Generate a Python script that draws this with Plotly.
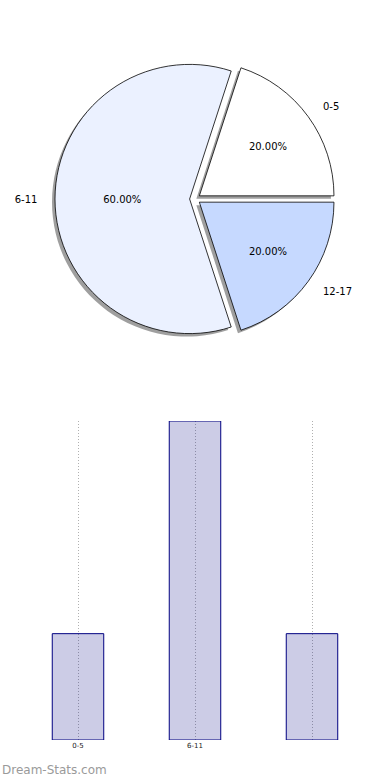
import plotly.graph_objects as go

age_groups = ["0-5", "6-11", "12-17"]
counts = [1, 3, 1]
pie_colors = ["#FFFFFF", "#EBF1FF", "#C6D9FF"]
bar_tick_labels = ["0-5", "6-11", ""]
watermark = "Dream-Stats.com"

W, H = 390, 780
pull = 0.04
label_pull = 0.15
# pie geometry (pixels -> paper)
cx, cy, half = 195, 199, 140
r = half / (1 + pull)


def domain(h, dx=0.0, dy=0.0):
    return dict(x=[(cx + dx - h) / W, (cx + dx + h) / W],
                y=[1 - (cy + dy + h) / H, 1 - (cy + dy - h) / H])


fig = go.Figure()

common = dict(labels=age_groups, values=counts, sort=False,
              direction="counterclockwise", rotation=18,
              showlegend=False, hoverinfo="skip")

# shadow
fig.add_trace(go.Pie(**common, pull=[pull] * 3, domain=domain(half, -3, 3),
                     marker=dict(colors=["rgba(80,80,80,0.55)"] * 3,
                                 line=dict(width=0)),
                     textinfo="none"))
# main pie with percentages
fig.add_trace(go.Pie(**common, pull=[pull] * 3, domain=domain(half),
                     marker=dict(colors=pie_colors, line=dict(color="black", width=0.8)),
                     texttemplate="%{percent:.2%}", textposition="inside",
                     insidetextorientation="horizontal",
                     textfont=dict(family="DejaVu Sans", size=10, color="black")))
# outside labels
fig.add_trace(go.Pie(**common, pull=[label_pull] * 3, domain=domain(r * (1 + label_pull)),
                     marker=dict(colors=["rgba(0,0,0,0)"] * 3, line=dict(width=0)),
                     texttemplate="%{label}", textposition="outside", automargin=False,
                     outsidetextfont=dict(family="DejaVu Sans", size=10, color="black")))

# bar chart
fig.add_trace(go.Bar(x=age_groups, y=counts, width=0.44,
                     marker=dict(color="rgba(0,0,128,0.2)",
                                 line=dict(color="navy", width=1)),
                     showlegend=False, hoverinfo="skip"))

fig.update_layout(
    width=W, height=H,
    margin=dict(l=0, r=0, t=0, b=0, autoexpand=False),
    paper_bgcolor="white", plot_bgcolor="rgba(0,0,0,0)",
    font=dict(family="DejaVu Sans"),
    xaxis=dict(domain=[19.5 / W, 370.5 / W], type="category",
               range=[-0.5, 2.5], tickvals=age_groups, ticktext=bar_tick_labels,
               showgrid=True, gridcolor="#b0b0b0", griddash="1px,2px", gridwidth=1,
               showline=False, zeroline=False, ticks="", ticklen=0,
               tickfont=dict(family="DejaVu Sans", size=7, color="#222")),
    yaxis=dict(domain=[1 - 740 / H, 1 - 421 / H], range=[0, 3], visible=False,
               showgrid=False),
    annotations=[dict(text=watermark, x=0, y=1 - 770 / H, xref="paper", yref="paper",
                      xanchor="left", yanchor="middle", showarrow=False,
                      font=dict(family="DejaVu Sans", size=12, color="#9a9a9a"))],
)

fig.write_html("out.html")
